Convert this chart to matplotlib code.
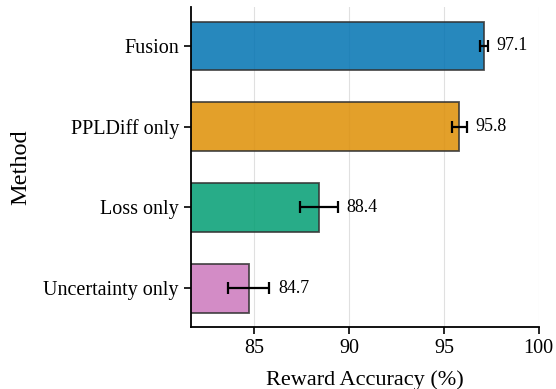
import numpy as np
import matplotlib
matplotlib.use('Agg')
import matplotlib.pyplot as plt

plt.rcParams['font.family'] = ['Liberation Serif', 'DejaVu Serif']

# Data
methods = ['Fusion', 'PPLDiff only', 'Loss only', 'Uncertainty only']
accuracy = [97.1, 95.8, 88.4, 84.7]
errors = [0.2, 0.4, 1.0, 1.1]
colors = ['#0173b2', '#de8f05', '#029e73', '#cc78bc']

fig, ax = plt.subplots(figsize=(5.56, 3.89), dpi=100)
fig.subplots_adjust(left=0.343, right=0.969, top=0.982, bottom=0.159)

y = np.arange(len(methods))
ax.barh(y, accuracy, height=0.6, color=colors, alpha=0.85,
        edgecolor='#333333', linewidth=1.3, zorder=2)
ax.errorbar(accuracy, y, xerr=errors, fmt='none', ecolor='black',
            elinewidth=1.6, capsize=4, capthick=1.6, zorder=3)

# Value labels
for yi, val, err in zip(y, accuracy, errors):
    ax.text(val + err + 0.45, yi, f'{val:.1f}', va='center', ha='left',
            fontsize=13)

ax.set_yticks(y)
ax.set_yticklabels(methods, fontsize=14.5)
ax.invert_yaxis()
ax.set_xlim(81.65, 100)
ax.set_xticks([85, 90, 95, 100])
ax.tick_params(axis='x', labelsize=14.5, length=5, width=1.2)
ax.tick_params(axis='y', length=5, width=1.2)
ax.set_xlabel('Reward Accuracy (%)', fontsize=16, labelpad=9)
ax.set_ylabel('Method', fontsize=17.5, labelpad=9)

ax.grid(axis='x', color='#cccccc', alpha=0.6, linewidth=0.8, zorder=0)
ax.set_axisbelow(True)
for s in ['top', 'right']:
    ax.spines[s].set_visible(False)
for s in ['left', 'bottom']:
    ax.spines[s].set_linewidth(1.3)
    ax.spines[s].set_color('black')

fig.savefig('out.png', dpi=100)
